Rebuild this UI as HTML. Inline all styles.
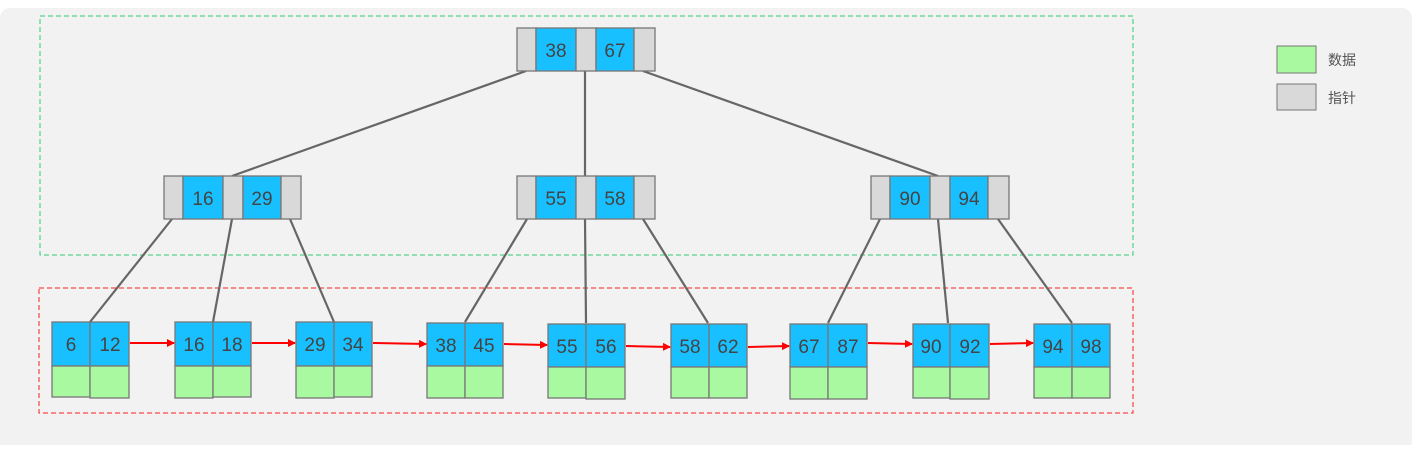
<!DOCTYPE html>
<html><head><meta charset="utf-8"><style>
body{margin:0;background:#fff;width:1418px;height:445px;overflow:hidden;font-family:"Liberation Sans","Noto Sans CJK SC",sans-serif}
</style></head><body>
<svg width="1418" height="445" xmlns="http://www.w3.org/2000/svg" font-family="Liberation Sans, Noto Sans CJK SC, sans-serif">
<rect x="0" y="8" width="1412" height="445" rx="10" fill="#f2f2f2"/>
<rect x="40" y="16" width="1093" height="239" fill="none" stroke="#2ecc71" stroke-dasharray="5,3"/>
<rect x="39" y="288" width="1094" height="125" fill="none" stroke="#ff2020" stroke-dasharray="5,3"/>
<g stroke="#666" stroke-width="2.2">
<line x1="526" y1="71" x2="232" y2="176"/><line x1="585" y1="71" x2="585" y2="176"/><line x1="643" y1="71" x2="938" y2="176"/>
<line x1="172" y1="219" x2="90" y2="322"/><line x1="232" y1="219" x2="213" y2="322"/><line x1="290" y1="219" x2="334" y2="322"/>
<line x1="527" y1="219" x2="465" y2="322"/><line x1="585" y1="219" x2="586" y2="323"/><line x1="643" y1="219" x2="708" y2="323"/>
<line x1="880" y1="219" x2="828" y2="323"/><line x1="938" y1="219" x2="948" y2="323"/><line x1="998" y1="219" x2="1072" y2="323"/>
</g>
<g id="nodes" stroke="#777" stroke-width="1.3" font-size="19" fill="#444">
<!-- internal nodes -->
<g transform="translate(517,28)">
<rect width="19" height="43" fill="#d9d9d9"/><rect x="19" width="40" height="43" fill="#19c0ff"/><rect x="59" width="20" height="43" fill="#d9d9d9"/><rect x="79" width="38" height="43" fill="#19c0ff"/><rect x="117" width="21" height="43" fill="#d9d9d9"/>
<text x="39" y="29" text-anchor="middle" stroke="none" fill="#444">38</text><text x="98" y="29" text-anchor="middle" stroke="none" fill="#444">67</text></g>
<g transform="translate(164,176)">
<rect width="19" height="43" fill="#d9d9d9"/><rect x="19" width="40" height="43" fill="#19c0ff"/><rect x="59" width="20" height="43" fill="#d9d9d9"/><rect x="79" width="38" height="43" fill="#19c0ff"/><rect x="117" width="20" height="43" fill="#d9d9d9"/>
<text x="39" y="29" text-anchor="middle" stroke="none" fill="#444">16</text><text x="98" y="29" text-anchor="middle" stroke="none" fill="#444">29</text></g>
<g transform="translate(517,176)">
<rect width="19" height="43" fill="#d9d9d9"/><rect x="19" width="40" height="43" fill="#19c0ff"/><rect x="59" width="20" height="43" fill="#d9d9d9"/><rect x="79" width="38" height="43" fill="#19c0ff"/><rect x="117" width="21" height="43" fill="#d9d9d9"/>
<text x="39" y="29" text-anchor="middle" stroke="none" fill="#444">55</text><text x="98" y="29" text-anchor="middle" stroke="none" fill="#444">58</text></g>
<g transform="translate(871,176)">
<rect width="19" height="43" fill="#d9d9d9"/><rect x="19" width="40" height="43" fill="#19c0ff"/><rect x="59" width="20" height="43" fill="#d9d9d9"/><rect x="79" width="38" height="43" fill="#19c0ff"/><rect x="117" width="21" height="43" fill="#d9d9d9"/>
<text x="39" y="29" text-anchor="middle" stroke="none" fill="#444">90</text><text x="98" y="29" text-anchor="middle" stroke="none" fill="#444">94</text></g>
</g>
<g stroke="#777" stroke-width="1.3" font-size="19">
<g transform="translate(52,322)"><rect width="38" height="44" fill="#19c0ff"/><rect x="38" width="39" height="44" fill="#19c0ff"/><rect y="44" width="38" height="31" fill="#a9f9a0"/><rect x="38" y="44" width="39" height="32" fill="#a9f9a0"/><text x="19" y="29" text-anchor="middle" stroke="none" fill="#444">6</text><text x="58" y="29" text-anchor="middle" stroke="none" fill="#444">12</text></g>
<g transform="translate(175,322)"><rect width="38" height="44" fill="#19c0ff"/><rect x="38" width="38" height="44" fill="#19c0ff"/><rect y="44" width="38" height="32" fill="#a9f9a0"/><rect x="38" y="44" width="38" height="31" fill="#a9f9a0"/><text x="19" y="29" text-anchor="middle" stroke="none" fill="#444">16</text><text x="57" y="29" text-anchor="middle" stroke="none" fill="#444">18</text></g>
<g transform="translate(296,322)"><rect width="38" height="44" fill="#19c0ff"/><rect x="38" width="38" height="44" fill="#19c0ff"/><rect y="44" width="38" height="32" fill="#a9f9a0"/><rect x="38" y="44" width="38" height="31" fill="#a9f9a0"/><text x="19" y="29" text-anchor="middle" stroke="none" fill="#444">29</text><text x="57" y="29" text-anchor="middle" stroke="none" fill="#444">34</text></g>
<g transform="translate(427,323)"><rect width="38" height="43" fill="#19c0ff"/><rect x="38" width="38" height="43" fill="#19c0ff"/><rect y="43" width="38" height="32" fill="#a9f9a0"/><rect x="38" y="43" width="38" height="32" fill="#a9f9a0"/><text x="19" y="29" text-anchor="middle" stroke="none" fill="#444">38</text><text x="57" y="29" text-anchor="middle" stroke="none" fill="#444">45</text></g>
<g transform="translate(548,324)"><rect width="38" height="43" fill="#19c0ff"/><rect x="38" width="39" height="43" fill="#19c0ff"/><rect y="43" width="38" height="31" fill="#a9f9a0"/><rect x="38" y="43" width="39" height="32" fill="#a9f9a0"/><text x="19" y="29" text-anchor="middle" stroke="none" fill="#444">55</text><text x="58" y="29" text-anchor="middle" stroke="none" fill="#444">56</text></g>
<g transform="translate(671,324)"><rect width="38" height="43" fill="#19c0ff"/><rect x="38" width="38" height="43" fill="#19c0ff"/><rect y="43" width="38" height="31" fill="#a9f9a0"/><rect x="38" y="43" width="38" height="31" fill="#a9f9a0"/><text x="19" y="29" text-anchor="middle" stroke="none" fill="#444">58</text><text x="57" y="29" text-anchor="middle" stroke="none" fill="#444">62</text></g>
<g transform="translate(790,324)"><rect width="38" height="43" fill="#19c0ff"/><rect x="38" width="39" height="43" fill="#19c0ff"/><rect y="43" width="38" height="32" fill="#a9f9a0"/><rect x="38" y="43" width="39" height="32" fill="#a9f9a0"/><text x="19" y="29" text-anchor="middle" stroke="none" fill="#444">67</text><text x="58" y="29" text-anchor="middle" stroke="none" fill="#444">87</text></g>
<g transform="translate(913,324)"><rect width="37" height="43" fill="#19c0ff"/><rect x="37" width="39" height="43" fill="#19c0ff"/><rect y="43" width="37" height="31" fill="#a9f9a0"/><rect x="37" y="43" width="39" height="32" fill="#a9f9a0"/><text x="18" y="29" text-anchor="middle" stroke="none" fill="#444">90</text><text x="57" y="29" text-anchor="middle" stroke="none" fill="#444">92</text></g>
<g transform="translate(1034,324)"><rect width="38" height="43" fill="#19c0ff"/><rect x="38" width="38" height="43" fill="#19c0ff"/><rect y="43" width="38" height="31" fill="#a9f9a0"/><rect x="38" y="43" width="38" height="31" fill="#a9f9a0"/><text x="19" y="29" text-anchor="middle" stroke="none" fill="#444">94</text><text x="57" y="29" text-anchor="middle" stroke="none" fill="#444">98</text></g>
</g>
<defs><marker id="a" markerWidth="8" markerHeight="8" refX="7" refY="4" orient="auto" markerUnits="userSpaceOnUse"><path d="M0,0 L8,4 L0,8 z" fill="#ff0000"/></marker></defs>
<g stroke="#ff0000" stroke-width="2" marker-end="url(#a)">
<line x1="130" y1="343" x2="174" y2="343"/><line x1="252" y1="343" x2="295" y2="343"/><line x1="373" y1="343" x2="426" y2="344"/>
<line x1="504" y1="344" x2="547" y2="345"/><line x1="626" y1="346" x2="670" y2="347"/><line x1="748" y1="347" x2="789" y2="346"/>
<line x1="868" y1="343" x2="912" y2="344"/><line x1="990" y1="344" x2="1033" y2="343"/>
</g>
<rect x="1277" y="46" width="39" height="27" fill="#a9f9a0" stroke="#777"/>
<rect x="1277" y="84" width="39" height="26" fill="#d9d9d9" stroke="#777"/>
<text x="1328" y="65" font-size="14" fill="#555">数据</text>
<text x="1328" y="103" font-size="14" fill="#555">指针</text>
</svg>
</body></html>
